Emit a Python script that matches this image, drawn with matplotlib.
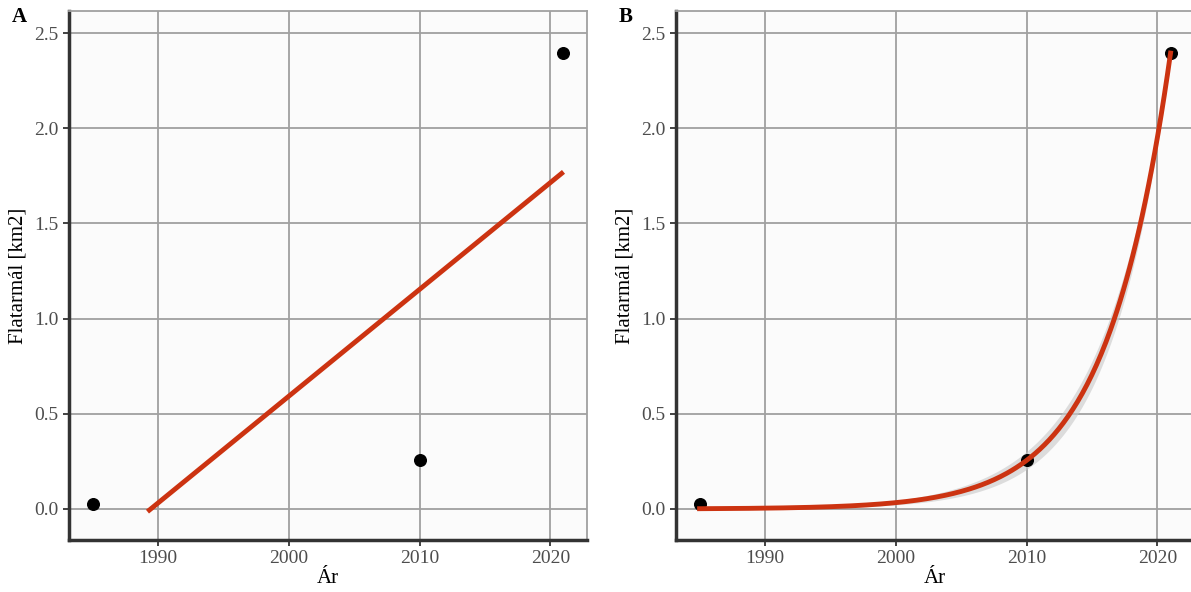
import numpy as np
import matplotlib.pyplot as plt

plt.rcParams['font.family'] = ['Liberation Serif', 'DejaVu Serif']

years = np.array([1985, 2010, 2021])
area = np.array([0.025, 0.255, 2.395])
lin_start = 1989.2
xticks = [1990, 2000, 2010, 2020]
yticks = [0.0, 0.5, 1.0, 1.5, 2.0, 2.5]
panels = ['A', 'B']

xlim = (1983.2, 2022.8)
ylim = (-0.163, 2.616)
red = '#cc3311'


def fit_exp(x, y):
    # Gauss-Newton for y = a*exp(b*(x-x0))
    x0 = x.min()
    b, la = np.polyfit(x - x0, np.log(y), 1)
    p = np.array([np.exp(la), b])
    for _ in range(50):
        e = np.exp(p[1] * (x - x0))
        f = p[0] * e
        J = np.column_stack([e, p[0] * (x - x0) * e])
        step = np.linalg.lstsq(J, y - f, rcond=None)[0]
        p = p + step
    e = np.exp(p[1] * (x - x0))
    J = np.column_stack([e, p[0] * (x - x0) * e])
    res = y - p[0] * e
    s2 = max(np.sum(res ** 2) / max(len(x) - 2, 1), 1e-4)
    cov = s2 * np.linalg.inv(J.T @ J)
    return p, cov, x0


def style(ax, label):
    ax.set_facecolor('#fbfbfb')
    ax.set_xlim(*xlim)
    ax.set_ylim(*ylim)
    ax.set_xticks(xticks)
    ax.set_yticks(yticks)
    ax.set_yticklabels([f'{v:.1f}' for v in yticks])
    ax.grid(True, color='#a0a0a0', linewidth=1.3)
    ax.set_axisbelow(True)
    for s in ['top', 'right']:
        ax.spines[s].set_color('#a0a0a0')
        ax.spines[s].set_linewidth(1.3)
    for s in ['left', 'bottom']:
        ax.spines[s].set_color('#333333')
        ax.spines[s].set_linewidth(2.5)
    ax.tick_params(labelsize=14, labelcolor='#4d4d4d', color='#333333', length=4, width=1.3)
    ax.set_xlabel('Ár', fontsize=15, labelpad=1)
    ax.set_ylabel('Flatarmál [km2]', fontsize=15, labelpad=5)
    ax.text(-0.11, 1.008, label, transform=ax.transAxes, fontsize=15, fontweight='bold', va='top')


fig = plt.figure(figsize=(11.91, 5.92), dpi=100)
axA = fig.add_axes([0.0579, 0.0878, 0.435, 0.8936])
axB = fig.add_axes([0.5676, 0.0878, 0.435, 0.8936])

# A: linear fit
slope, icpt = np.polyfit(years, area, 1)
xl = np.array([lin_start, years.max()])
axA.plot(xl, icpt + slope * xl, color=red, linewidth=3.5, solid_capstyle='butt', zorder=2)
axA.scatter(years, area, s=70, color='black', zorder=3)
style(axA, panels[0])

# B: exponential fit
p, cov, x0 = fit_exp(years, area)
xs = np.linspace(years.min(), years.max(), 300)
e = np.exp(p[1] * (xs - x0))
ys = p[0] * e
G = np.column_stack([e, p[0] * (xs - x0) * e])
se = np.sqrt(np.einsum('ij,jk,ik->i', G, cov, G))
axB.fill_between(xs, ys - 2 * se, ys + 2 * se, color='#c8c8c8', alpha=0.6, linewidth=0, zorder=1)
axB.scatter(years, area, s=70, color='black', zorder=2)
axB.plot(xs, ys, color=red, linewidth=3.5, zorder=3)
style(axB, panels[1])

fig.savefig('out.png', dpi=100)
